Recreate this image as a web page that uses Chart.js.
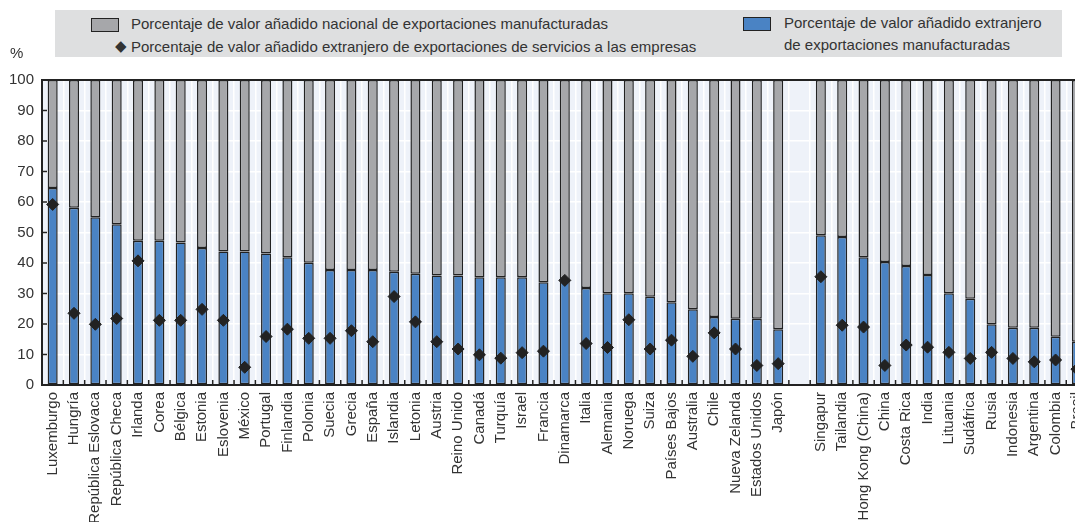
<!DOCTYPE html>
<html>
<head>
<meta charset="utf-8">
<script src="https://cdn.jsdelivr.net/npm/chart.js@4/dist/chart.umd.min.js"></script>
<style>
  html, body { margin:0; padding:0; background:#fff; overflow:hidden; }
  #wrap { position:relative; width:1075px; height:522px; overflow:hidden; font-family:"Liberation Sans", Arial, sans-serif; color:#333; }
  #c { position:absolute; left:0; top:0; }
  #legend { position:absolute; left:55px; top:10px; width:1007px; height:47px; background:#dedfe0; }
  .lt { position:absolute; font-size:15px; line-height:17px; white-space:nowrap; color:#333; }
  .sw { position:absolute; border:1.5px solid #222; box-sizing:border-box; }
  #pct { position:absolute; left:10px; top:44px; font-size:15px; color:#333; }
</style>
</head>
<body>
<div id="wrap">
  <canvas id="c" width="1102" height="522"></canvas>
  <div id="legend">
    <div class="sw" style="left:36px;top:8px;width:28px;height:14px;background:#a6a7aa;"></div>
    <div class="lt" style="left:76px;top:5px;">Porcentaje de valor añadido nacional de exportaciones manufacturadas</div>
    <div class="lt" style="left:60px;top:27px;">◆</div>
    <div class="lt" style="left:76px;top:28px;">Porcentaje de valor añadido extranjero de exportaciones de servicios a las empresas</div>
    <div class="sw" style="left:688px;top:7px;width:28px;height:14px;background:#4a83c4;"></div>
    <div class="lt" style="left:729px;top:4px;">Porcentaje de valor añadido extranjero</div>
    <div class="lt" style="left:729px;top:26px;">de exportaciones manufacturadas</div>
  </div>
  <div id="pct">%</div>
</div>
<script>
const categories = ["Luxemburgo","Hungría","República Eslovaca","República Checa","Irlanda","Corea","Bélgica","Estonia","Eslovenia","México","Portugal","Finlandia","Polonia","Suecia","Grecia","España","Islandia","Letonia","Austria","Reino Unido","Canadá","Turquía","Israel","Francia","Dinamarca","Italia","Alemania","Noruega","Suiza","Países Bajos","Australia","Chile","Nueva Zelanda","Estados Unidos","Japón","","Singapur","Tailandia","Hong Kong (China)","China","Costa Rica","India","Lituania","Sudáfrica","Rusia","Indonesia","Argentina","Colombia","Brasil"];

const foreignManufactured = [64.6,58.1,55.0,52.7,47.3,47.3,46.7,44.9,43.8,43.8,43.1,41.9,40.1,37.7,37.7,37.7,37.1,36.5,35.9,35.9,35.3,35.3,35.3,33.7,34.4,31.8,30.1,30.1,28.9,27.1,24.8,22.3,21.7,21.7,18.3,null,49.1,48.5,41.9,40.3,39.0,36.1,30.1,28.3,19.9,18.8,18.8,15.8,14.2];

const domesticManufactured = [35.4,41.9,45.0,47.3,52.7,52.7,53.3,55.1,56.2,56.2,56.9,58.1,59.9,62.3,62.3,62.3,62.9,63.5,64.1,64.1,64.7,64.7,64.7,66.3,65.6,68.2,69.9,69.9,71.1,72.9,75.2,77.7,78.3,78.3,81.7,null,50.9,51.5,58.1,59.7,61.0,63.9,69.9,71.7,80.1,81.2,81.2,84.2,85.8];

const foreignServices = [59.2,23.5,19.9,21.8,40.7,21.2,21.2,24.8,21.2,5.8,15.9,18.3,15.3,15.3,17.8,14.2,29.0,20.7,14.2,11.8,9.9,8.8,10.6,11.1,34.3,13.6,12.3,21.4,11.8,14.7,9.4,17.1,11.8,6.4,7.0,null,35.5,19.6,19.0,6.4,13.1,12.4,10.7,8.7,10.7,8.7,7.6,8.2,5.2];

const yTicks = [0,10,20,30,40,50,60,70,80,90,100];

const FONT = { family: '"Liberation Sans", Arial, sans-serif', size: 15 };

const framePlugin = {
  id: 'frame',
  beforeDraw(chart) {
    const {ctx, chartArea:a} = chart;
    ctx.save();
    ctx.fillStyle = '#eef2f9';
    ctx.fillRect(a.left, a.top, a.right - a.left, a.bottom - a.top);
    ctx.restore();
  },
  afterDraw(chart) {
    const {ctx, chartArea:a, scales} = chart;
    const x = scales.x, y = scales.y;
    ctx.save();
    ctx.strokeStyle = '#222';
    ctx.lineWidth = 1.5;
    for (let i = 0; i < categories.length; i++) {
      const bx = (x.getPixelForValue(i) + x.getPixelForValue(i + 1)) / 2;
      ctx.beginPath(); ctx.moveTo(bx, a.bottom); ctx.lineTo(bx, a.bottom - 5); ctx.stroke();
    }
    yTicks.forEach(v => {
      const py = y.getPixelForValue(v);
      ctx.beginPath(); ctx.moveTo(a.left, py); ctx.lineTo(a.left + 5, py); ctx.stroke();
    });
    ctx.lineWidth = 2;
    ctx.beginPath();
    ctx.moveTo(a.right + 5, a.top); ctx.lineTo(a.left, a.top); ctx.lineTo(a.left, a.bottom); ctx.lineTo(a.right + 5, a.bottom);
    ctx.stroke();
    ctx.restore();
  }
};

new Chart(document.getElementById('c'), {
  data: {
    labels: categories,
    datasets: [
      {
        type: 'line',
        label: 'Porcentaje de valor añadido extranjero de exportaciones de servicios a las empresas',
        data: foreignServices,
        showLine: false,
        pointStyle: 'rectRot',
        pointRadius: 6,
        pointBackgroundColor: '#222',
        pointBorderColor: '#222',
        pointBorderWidth: 1,
        order: 0
      },
      {
        type: 'bar',
        label: 'Porcentaje de valor añadido extranjero de exportaciones manufacturadas',
        data: foreignManufactured,
        backgroundColor: '#4a83c4',
        borderColor: '#222',
        borderWidth: 1.5,
        borderSkipped: false,
        stack: 's',
        categoryPercentage: 1,
        barPercentage: 0.47,
        order: 1
      },
      {
        type: 'bar',
        label: 'Porcentaje de valor añadido nacional de exportaciones manufacturadas',
        data: domesticManufactured,
        backgroundColor: '#a6a7aa',
        borderColor: '#222',
        borderWidth: 1.5,
        borderSkipped: false,
        stack: 's',
        categoryPercentage: 1,
        barPercentage: 0.47,
        order: 2
      }
    ]
  },
  options: {
    responsive: false,
    animation: false,
    events: [],
    layout: { padding: { top: 80, right: 2, left: 0, bottom: 0 } },
    plugins: { legend: { display: false }, tooltip: { enabled: false } },
    scales: {
      x: {
        stacked: true,
        offset: true,
        grid: { color: '#ffffff', lineWidth: 1.5, drawTicks: false, offset: true },
        border: { display: false },
        ticks: { autoSkip: false, maxRotation: 90, minRotation: 90, padding: 7, color: '#333', font: FONT },
        afterFit(scale) { scale.height = 137; }
      },
      y: {
        stacked: true,
        min: 0, max: 100,
        grid: { color: '#ffffff', lineWidth: 1.5, drawTicks: false },
        border: { display: false },
        ticks: { stepSize: 10, padding: 8, color: '#333', font: FONT },
        afterFit(scale) { scale.width = 42; }
      }
    }
  },
  plugins: [framePlugin]
});
</script>
</body>
</html>
